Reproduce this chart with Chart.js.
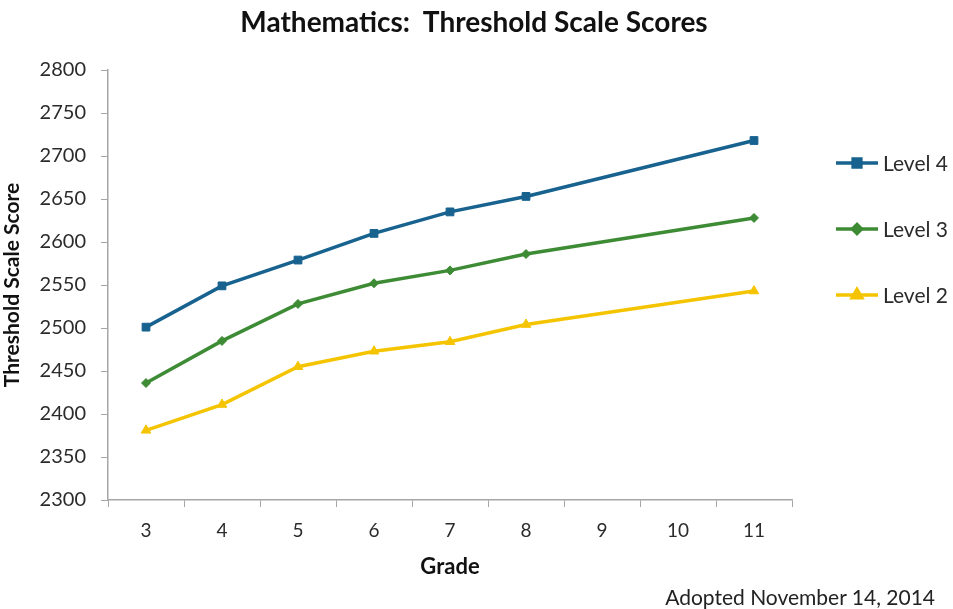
<!DOCTYPE html>
<html lang="en">
<head>
  <meta charset="UTF-8" />
  <title>Mathematics: Threshold Scale Scores</title>
  <script src="https://cdn.jsdelivr.net/npm/chart.js"></script>
  <style>
    body {
      margin: 0;
      padding: 0;
      background: #fff;
      font-family: Lato, 'Open Sans', sans-serif;
    }
    .wrap {
      position: relative;
      width: 953px;
      height: 609px;
    }
    h1 {
      position: absolute;
      top: 4px;
      left: 0;
      width: 948px;
      margin: 0;
      text-align: center;
      font-size: 28px;
      font-weight: bold;
      color: #111;
      white-space: pre;
    }
    .note {
      position: absolute;
      right: 18px;
      bottom: 0px;
      font-size: 21px;
      color: #222;
    }
  </style>
</head>
<body>
  <div class="wrap">
    <canvas id="chart" width="953" height="609"></canvas>
    <h1>Mathematics:  Threshold Scale Scores</h1>
    <div class="note">Adopted November 14, 2014</div>
  </div>

  <script>
    // grades (9 and 10 have no cut scores)
    const grades = ["3", "4", "5", "6", "7", "8", "9", "10", "11"];
    const level4 = [2501, 2549, 2579, 2610, 2635, 2653, null, null, 2718];
    const level3 = [2436, 2485, 2528, 2552, 2567, 2586, null, null, 2628];
    const level2 = [2381, 2411, 2455, 2473, 2484, 2504, null, null, 2543];
    const yMin = 2300, yMax = 2800, yStep = 50;

    const textColor = "#2b2b2b";
    const axisColor = "#a6a6a6";
    const fam = "Lato, 'Open Sans', sans-serif";

    // legend drawn at the right: line with marker in the middle
    const sideLegend = {
      id: "sideLegend",
      afterDraw(chart) {
        const ctx = chart.ctx;
        const x0 = chart.chartArea.right + 44;
        let y = 163;
        chart.data.datasets.forEach(ds => {
          ctx.save();
          ctx.strokeStyle = ds.borderColor;
          ctx.lineWidth = 3.5;
          ctx.beginPath();
          ctx.moveTo(x0, y);
          ctx.lineTo(x0 + 42, y);
          ctx.stroke();
          Chart.helpers.drawPoint(ctx, {
            pointStyle: ds.pointStyle,
            radius: ds.pointRadius,
            rotation: 0,
            borderWidth: 1
          }, x0 + 21, y);
          ctx.fillStyle = ds.borderColor;
          ctx.fill();
          ctx.fillStyle = textColor;
          ctx.font = "21px " + fam;
          ctx.textBaseline = "middle";
          ctx.fillText(ds.label, x0 + 47, y + 1);
          ctx.restore();
          y += 66;
        });
      }
    };

    new Chart(document.getElementById("chart"), {
      type: "line",
      data: {
        labels: grades,
        datasets: [
          {
            label: "Level 4",
            data: level4,
            borderColor: "#17628f",
            backgroundColor: "#17628f",
            pointStyle: "rect",
            pointRadius: 5.5
          },
          {
            label: "Level 3",
            data: level3,
            borderColor: "#3d8b34",
            backgroundColor: "#3d8b34",
            pointStyle: "rectRot",
            pointRadius: 4.5
          },
          {
            label: "Level 2",
            data: level2,
            borderColor: "#f5c400",
            backgroundColor: "#f5c400",
            pointStyle: "triangle",
            pointRadius: 5.5
          }
        ]
      },
      options: {
        responsive: false,
        animation: false,
        spanGaps: true,
        elements: {
          line: { borderWidth: 3.5, tension: 0 },
          point: { borderWidth: 1, hoverRadius: 6 }
        },
        layout: {
          padding: { top: 70, left: 0, right: 161, bottom: 29 }
        },
        plugins: {
          legend: { display: false },
          tooltip: { enabled: false }
        },
        scales: {
          x: {
            offset: true,
            afterFit(scale) { scale.height = 80; },
            grid: {
              offset: true,
              drawOnChartArea: false,
              drawTicks: true,
              tickLength: 7,
              color: axisColor
            },
            border: { color: axisColor, width: 1.5 },
            ticks: {
              color: textColor,
              padding: 12,
              font: { family: fam, size: 19 }
            },
            title: {
              display: true,
              text: "Grade",
              color: "#111",
              font: { family: fam, size: 22, weight: "bold" },
              padding: { top: 4, bottom: 0 }
            }
          },
          y: {
            min: yMin,
            max: yMax,
            afterFit(scale) { scale.width = 108; },
            grid: {
              drawOnChartArea: false,
              drawTicks: true,
              tickLength: 7,
              color: axisColor
            },
            border: { color: axisColor, width: 1.5 },
            ticks: {
              stepSize: yStep,
              color: textColor,
              padding: 15,
              font: { family: fam, size: 20 },
              callback: v => String(v)
            },
            title: {
              display: true,
              text: "Threshold Scale Score",
              color: "#111",
              font: { family: fam, size: 21, weight: "bold" },
              padding: { top: 0, bottom: 2 }
            }
          }
        }
      },
      plugins: [sideLegend]
    });
  </script>
</body>
</html>
